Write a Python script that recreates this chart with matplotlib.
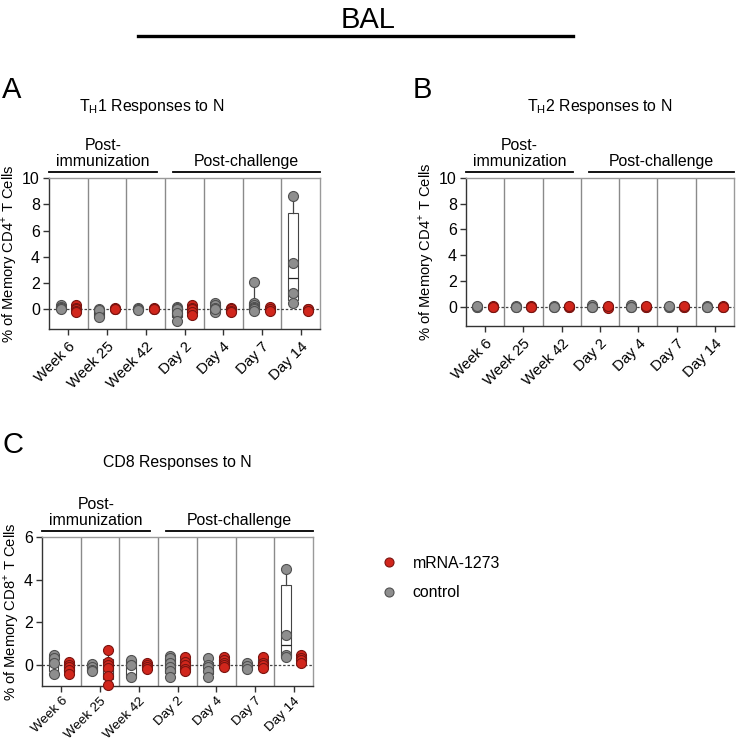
import numpy as np
import matplotlib
matplotlib.use("Agg")
import matplotlib.pyplot as plt
from matplotlib.lines import Line2D

plt.rcParams['font.family'] = ['Liberation Sans', 'DejaVu Sans']
plt.rcParams['mathtext.fontset'] = 'custom'
plt.rcParams['mathtext.rm'] = 'Liberation Sans'

# ---------------- data ----------------
categories = ['Week 6', 'Week 25', 'Week 42', 'Day 2', 'Day 4', 'Day 7', 'Day 14']
group_labels = ['Post-\nimmunization', 'Post-challenge']
series_names = ['mRNA-1273', 'control']

th1_control = [[0.3, 0.15, 0.1, 0.05], [0.05, -0.05, -0.6], [0.1, 0.0, -0.05],
               [0.2, 0.1, 0.0, -0.3, -0.9], [0.5, 0.3, 0.1, -0.1, -0.2, 0.0],
               [2.05, 0.45, 0.35, 0.2, 0.1, 0.0, -0.1], [8.6, 3.5, 1.25, 0.5]]
th1_mrna = [[0.3, 0.1, 0.0, -0.1, -0.2], [0.1, 0.05, 0.0], [0.1, 0.05, 0.0],
            [0.3, 0.1, 0.0, -0.2, -0.4], [0.1, 0.0, -0.1, -0.2],
            [0.2, 0.0, -0.1], [0.05, 0.0, -0.1]]

th2_control = [[0.0, -0.05, 0.05], [0.0, 0.05, -0.02], [0.0, 0.05, -0.02],
               [0.15, 0.0, -0.05], [0.1, 0.0, -0.05], [0.0, -0.05, 0.02],
               [0.0, 0.02, -0.02]]
th2_mrna = [[0.0, 0.02, -0.02], [0.0, 0.03, -0.03], [0.0, -0.05, 0.02],
            [0.0, -0.07, 0.05], [0.0, -0.06, 0.04], [0.0, -0.03, 0.03],
            [0.0, 0.03, -0.02]]

cd8_control = [[0.45, 0.3, 0.1, -0.45], [0.05, -0.1, -0.25, -0.3],
               [0.2, 0.0, -0.6], [0.4, 0.3, 0.1, -0.1, -0.3, -0.6],
               [0.3, 0.0, -0.1, -0.3, -0.6], [0.1, -0.05, -0.2],
               [4.5, 1.4, 0.45, 0.35]]
cd8_mrna = [[0.15, 0.0, -0.1, -0.25, -0.45], [0.7, 0.15, 0.0, -0.15, -0.55, -0.95],
            [0.1, 0.0, -0.1, -0.2], [0.35, 0.15, 0.0, -0.2, -0.3],
            [0.35, 0.2, 0.1, 0.0, -0.1], [0.35, 0.1, 0.0, -0.15],
            [0.45, 0.3, 0.2, 0.1]]

th_yticks = [0, 2, 4, 6, 8, 10]
cd8_yticks = [0, 2, 4, 6]

# ---------------- style ----------------
W, H = 736, 745
RED = '#d1261c'
RED_EDGE = '#7a1410'
GRAY = '#8e8e8e'
GRAY_EDGE = '#505050'

fig = plt.figure(figsize=(W / 100, H / 100), dpi=100)


def px_axes(left, top, right, bottom):
    return fig.add_axes([left / W, 1 - bottom / H, (right - left) / W, (bottom - top) / H])


def box_stats(vals):
    v = np.asarray(vals, dtype=float)
    q1, med, q3 = np.percentile(v, [25, 50, 75], method='weibull')
    return dict(med=med, q1=q1, q3=q3, whislo=v.min(), whishi=v.max(), fliers=[])


def panel(ax, ctrl, mrna, ylim, yticks, ylabel, xfs=10.8, xpad=3):
    n = len(categories)
    x = np.arange(n)
    ax.set_xlim(-0.5, n - 0.5)
    ax.set_ylim(*ylim)
    for b in np.arange(0.5, n - 0.5, 1):
        ax.axvline(b, color='#8a8a8a', lw=1.0, zorder=1)
    ax.axhline(0, color='#444444', lw=0.9, ls=(0, (2, 1.5)), zorder=1.5)
    for data, off, fc, ec in ((ctrl, -0.2, GRAY, GRAY_EDGE), (mrna, 0.2, RED, RED_EDGE)):
        stats = [box_stats(d) for d in data]
        ax.bxp(stats, positions=x + off, widths=0.25, showfliers=False, patch_artist=True,
               boxprops=dict(facecolor='white', edgecolor='#444444', lw=0.8),
               medianprops=dict(color='#222222', lw=0.9),
               whiskerprops=dict(color='#444444', lw=0.9),
               capprops=dict(lw=0), manage_ticks=False, zorder=2)
        for i, d in enumerate(data):
            ax.plot(np.full(len(d), x[i] + off), d, 'o', ms=7.2, mfc=fc, mec=ec,
                    mew=0.8, zorder=3, clip_on=False)
    ax.set_xticks(x)
    ax.set_xticklabels(categories, rotation=45, ha='right', rotation_mode='anchor', fontsize=xfs)
    ax.set_yticks(yticks)
    ax.set_yticklabels([str(t) for t in yticks], fontsize=11.5)
    ax.tick_params(axis='both', direction='out', length=4.5, width=1.0, color='#333333', pad=2)
    ax.tick_params(axis='x', pad=xpad)
    for s in ('left', 'bottom'):
        ax.spines[s].set_color('#333333')
        ax.spines[s].set_linewidth(1.0)
    for s in ('top', 'right'):
        ax.spines[s].set_color('#9a9a9a')
        ax.spines[s].set_linewidth(1.0)
    ax.set_ylabel(ylabel, fontsize=10.6, labelpad=2)
    # group brackets
    tr = ax.get_xaxis_transform()
    ax.plot([-0.5, 2.3], [1.04, 1.04], color='black', lw=1.3, transform=tr, clip_on=False)
    ax.plot([2.7, 6.5], [1.04, 1.04], color='black', lw=1.3, transform=tr, clip_on=False)
    ax.text(0.9, 1.06, group_labels[0], transform=tr, ha='center', va='bottom',
            fontsize=11.4, linespacing=1.1)
    ax.text(4.6, 1.06, group_labels[1], transform=tr, ha='center', va='bottom', fontsize=11.4)


axA = px_axes(49, 178, 320, 329)
panel(axA, th1_control, th1_mrna, (-1.5, 10), th_yticks, '% of Memory CD4$^{+}$ T Cells')
axB = px_axes(466, 178, 734, 326)
panel(axB, th2_control, th2_mrna, (-1.5, 10), th_yticks, '% of Memory CD4$^{+}$ T Cells')
axC = px_axes(42, 537, 313, 686)
panel(axC, cd8_control, cd8_mrna, (-1.0, 6), cd8_yticks, '% of Memory CD8$^{+}$ T Cells',
      xfs=9.6, xpad=2)

# titles and labels
fig.text(368 / W, 1 - 20 / H, 'BAL', ha='center', va='center', fontsize=21)
fig.add_artist(Line2D([138 / W, 573 / W], [1 - 36 / H, 1 - 36 / H], color='black', lw=2.4))

fig.text(2 / W, 1 - 90 / H, 'A', ha='left', va='center', fontsize=21)
fig.text(413 / W, 1 - 90 / H, 'B', ha='left', va='center', fontsize=21)
fig.text(2 / W, 1 - 445 / H, 'C', ha='left', va='center', fontsize=21)

fig.text(152 / W, 1 - 106 / H, 'T$_\\mathregular{H}$1 Responses to N', ha='center', va='center', fontsize=11.4)
fig.text(600 / W, 1 - 106 / H, 'T$_\\mathregular{H}$2 Responses to N', ha='center', va='center', fontsize=11.4)
fig.text(177 / W, 1 - 463 / H, 'CD8 Responses to N', ha='center', va='center', fontsize=11.4)

handles = [Line2D([], [], ls='none', marker='o', ms=6.5, mfc=RED, mec=RED_EDGE, mew=0.8),
           Line2D([], [], ls='none', marker='o', ms=6.5, mfc=GRAY, mec=GRAY_EDGE, mew=0.8)]
fig.legend(handles, series_names, loc='upper left', bbox_to_anchor=(381 / W, 1 - 556 / H),
           frameon=False, fontsize=11.4, labelspacing=0.9, handlelength=1.0,
           handletextpad=1.0, borderaxespad=0, borderpad=0)

fig.savefig('out.png', dpi=100)
